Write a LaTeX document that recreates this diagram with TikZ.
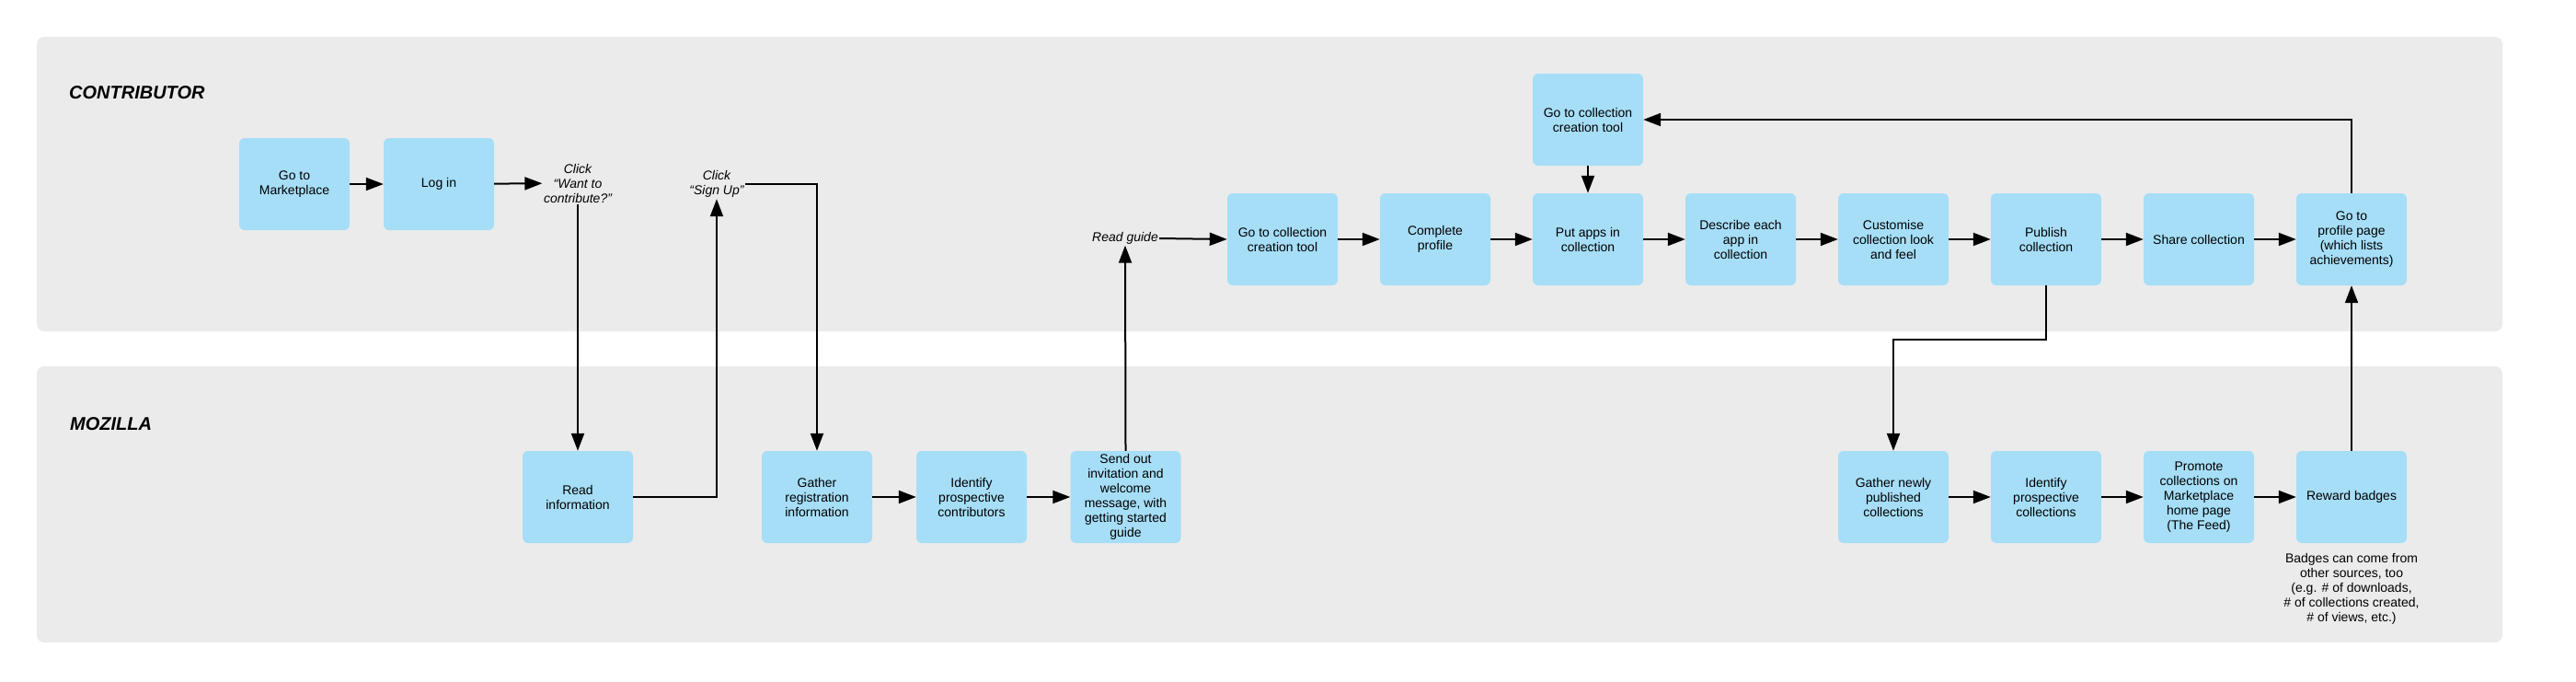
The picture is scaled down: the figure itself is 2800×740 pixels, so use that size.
\documentclass[tikz,border=0pt]{standalone}
\usepackage{fontspec}
\setmainfont{Liberation Sans}
\usetikzlibrary{arrows.meta}
\definecolor{lanegray}{RGB}{235,235,235}
\definecolor{boxblue}{RGB}{166,222,247}
\begin{document}
\begin{tikzpicture}[x=1pt,y=-1pt,
  txt/.style={font=\fontsize{14}{16}\selectfont, align=center},
  stepbox/.style={txt, fill=boxblue, rounded corners=6pt, minimum width=120pt, minimum height=100pt, inner sep=0pt},
  note/.style={txt, font=\fontsize{14}{16}\selectfont\itshape, inner sep=1.5pt},
  lanetitle/.style={font=\fontsize{20}{24}\selectfont\bfseries\itshape, anchor=west, inner sep=0pt},
  arr/.style={line width=2pt, -{Triangle[length=19pt,width=14pt]}},
  plain/.style={line width=2pt}]
\useasboundingbox (0,0) rectangle (2800,740);
\fill[white] (0,0) rectangle (2800,740);
% lanes
\fill[lanegray, rounded corners=8pt] (40,40) rectangle (2720,360);
\fill[lanegray, rounded corners=8pt] (40,398) rectangle (2720,698);
\node[lanetitle] (lc) at (75,101) {CONTRIBUTOR};
\node[lanetitle] (lm) at (76,461) {MOZILLA};
% contributor row 1
\node[stepbox] (market) at (320,200) {Go to\\Marketplace};
\node[stepbox] (login) at (477,200) {Log in};
\node[note] (want) at (628,199) {Click\\“Want to\\contribute?”};
\node[note] (signup) at (779,200) {Click\\“Sign Up”};
\node[note, inner sep=1pt] (readguide) at (1223,259) {Read guide};
% contributor row 2
\node[stepbox] (gotool) at (1394,260) {Go to collection\\creation tool};
\node[stepbox] (complete) at (1560,260) {Complete\\profile};
\node[stepbox] (putapps) at (1726,260) {Put apps in\\collection};
\node[stepbox] (toptool) at (1726,130) {Go to collection\\creation tool};
\node[stepbox] (describe) at (1892,260) {Describe each\\app in\\collection};
\node[stepbox] (custom) at (2058,260) {Customise\\collection look\\and feel};
\node[stepbox] (publish) at (2224,260) {Publish\\collection};
\node[stepbox] (share) at (2390,260) {Share collection};
\node[stepbox] (profile) at (2556,260) {Go to\\profile page\\(which lists\\achievements)};
% mozilla row
\node[stepbox] (read) at (628,540) {Read\\information};
\node[stepbox] (gather) at (888,540) {Gather\\registration\\information};
\node[stepbox] (idcontrib) at (1056,540) {Identify\\prospective\\contributors};
\node[stepbox] (send) at (1223.5,540) {Send out\\invitation and\\welcome\\message, with\\getting started\\guide};
\node[stepbox] (gathernew) at (2058,540) {Gather newly\\published\\collections};
\node[stepbox] (idcoll) at (2224,540) {Identify\\prospective\\collections};
\node[stepbox] (promote) at (2390,540) {Promote\\collections on\\Marketplace\\home page\\(The Feed)};
\node[stepbox] (reward) at (2556,540) {Reward badges};
\node[txt, anchor=north] (badgenote) at (2556,598) {Badges can come from\\other sources, too\\(e.g. \# of downloads,\\\# of collections created,\\\# of views, etc.)};
% connectors
\draw[arr] (market) -- (login);
\draw[arr] (login) -- (want);
\draw[arr] (want.south) -- (read.north);
\draw[arr] (read.east) -| (signup.south);
\draw[arr] (signup.east) -| (gather.north);
\draw[arr] (gather) -- (idcontrib);
\draw[arr] (idcontrib) -- (send);
\draw[arr] (send.north) -- (readguide.south);
\draw[arr] (readguide.east) -- (gotool.west);
\draw[arr] (gotool) -- (complete);
\draw[arr] (complete) -- (putapps);
\draw[arr] (putapps) -- (describe);
\draw[arr] (describe) -- (custom);
\draw[arr] (custom) -- (publish);
\draw[arr] (publish) -- (share);
\draw[arr] (share) -- (profile);
\draw[arr] (toptool) -- (putapps);
\draw[arr] (profile.north) |- (toptool.east);
\coordinate (pbend) at (2224,369);
\draw[arr] (publish.south) -- (pbend) -| (gathernew.north);
\draw[arr] (gathernew) -- (idcoll);
\draw[arr] (idcoll) -- (promote);
\draw[arr] (promote) -- (reward);
\draw[arr] (reward.north) -- (profile.south);
\end{tikzpicture}
\end{document}
